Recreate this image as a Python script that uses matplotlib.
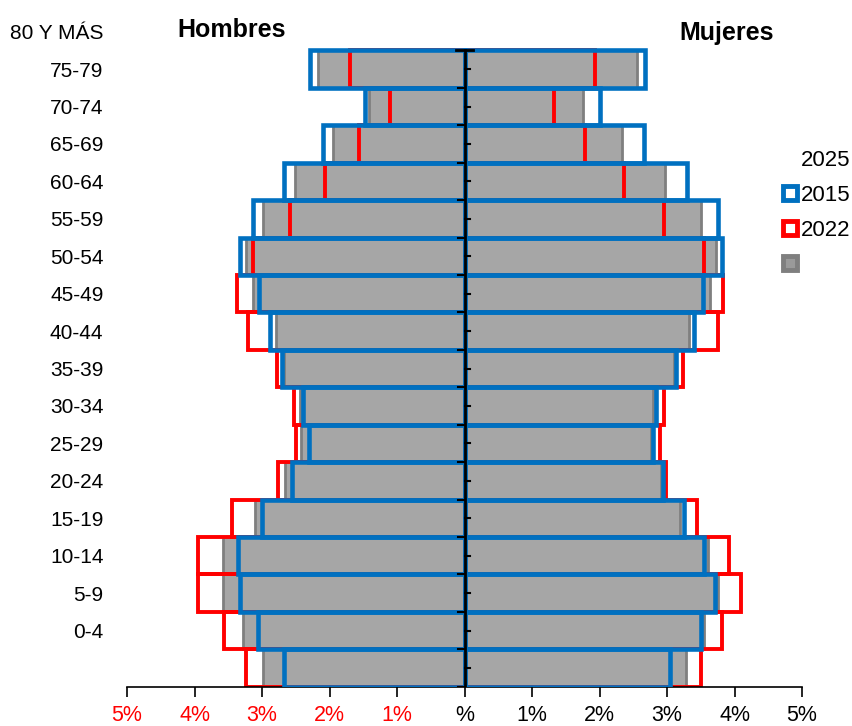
import numpy as np
import matplotlib.pyplot as plt
from matplotlib.lines import Line2D

# age labels (shifted one bar up, as in the original sheet)
age_labels = ["0-4", "5-9", "10-14", "15-19", "20-24", "25-29", "30-34", "35-39",
              "40-44", "45-49", "50-54", "55-59", "60-64", "65-69", "70-74",
              "75-79", "80 Y MÁS"]

# values per bar, top to bottom (percent of population)
men_2025 = [2.17, 1.41, 1.95, 2.51, 2.99, 3.23, 3.14, 2.80, 2.67, 2.44, 2.42, 2.66, 3.11, 3.58, 3.58, 3.28, 2.98]
men_2015 = [2.29, 1.47, 2.10, 2.68, 3.14, 3.33, 3.05, 2.88, 2.70, 2.39, 2.31, 2.56, 3.00, 3.36, 3.32, 3.06, 2.68]
men_2022 = [1.69, 1.11, 1.57, 2.07, 2.59, 3.14, 3.37, 3.21, 2.78, 2.53, 2.50, 2.76, 3.45, 3.95, 3.95, 3.57, 3.23]
women_2025 = [2.56, 1.76, 2.33, 2.97, 3.51, 3.73, 3.63, 3.32, 3.10, 2.79, 2.77, 2.91, 3.19, 3.60, 3.76, 3.55, 3.28]
women_2015 = [2.68, 2.00, 2.66, 3.29, 3.76, 3.82, 3.53, 3.40, 3.13, 2.83, 2.79, 2.94, 3.25, 3.55, 3.71, 3.50, 3.04]
women_2022 = [1.93, 1.32, 1.79, 2.37, 2.96, 3.55, 3.83, 3.75, 3.24, 2.96, 2.89, 2.99, 3.45, 3.92, 4.09, 3.82, 3.51]

xtick_vals = [-5, -4, -3, -2, -1, 0, 1, 2, 3, 4, 5]
xtick_labels = ["5%", "4%", "3%", "2%", "1%", "%", "1%", "2%", "3%", "4%", "5%"]

blue = "#0070c0"
red = "#ff0000"
gray = "#a6a6a6"
dgray = "#7f7f7f"

plt.rcParams['font.family'] = ['Liberation Sans', 'DejaVu Sans']

n = len(men_2025)
y = np.arange(n)[::-1]  # top bar -> index n-1

fig = plt.figure(figsize=(8.52, 7.26), dpi=100)
ax = fig.add_axes([127/852, 1-686.7/726, (802-127)/852, (686.7-13)/726])

# 2025 filled gray
ax.barh(y, -np.array(men_2025), height=1.0, color=gray, edgecolor=dgray, linewidth=2, zorder=1)
ax.barh(y, women_2025, height=1.0, color=gray, edgecolor=dgray, linewidth=2, zorder=1)
# 2022 red outline
ax.barh(y, -np.array(men_2022), height=1.0, fill=False, edgecolor=red, linewidth=2.8, zorder=2)
ax.barh(y, women_2022, height=1.0, fill=False, edgecolor=red, linewidth=2.8, zorder=2)
# 2015 blue outline
ax.barh(y, -np.array(men_2015), height=1.0, fill=False, edgecolor=blue, linewidth=3.3, zorder=3)
ax.barh(y, women_2015, height=1.0, fill=False, edgecolor=blue, linewidth=3.3, zorder=3)

# center axis with small ticks
ax.plot([0, 0], [-0.5, n - 0.5], color="black", lw=2, zorder=5)
ax.plot([-0.12, 0.12], [n - 0.5, n - 0.5], color="black", lw=2, zorder=5)
for b in np.arange(n) - 0.5:
    ax.plot([-0.1, 0], [b, b], color="black", lw=1.5, zorder=5)
for m in np.arange(n):
    ax.plot([0, 0.08], [m, m], color="black", lw=1.5, zorder=5)

ax.set_xlim(-5, 5)
ax.set_ylim(-0.5, 17.5)
for s in ["top", "right", "left"]:
    ax.spines[s].set_visible(False)
ax.spines["bottom"].set_linewidth(1.2)

ax.set_xticks(xtick_vals)
ax.set_xticklabels(xtick_labels, fontsize=15.5)
for lbl, v in zip(ax.get_xticklabels(), xtick_vals):
    lbl.set_color(red if v < 0 else "black")
ax.tick_params(axis="x", direction="out", length=7, width=1.2, pad=6)

ax.set_yticks(np.arange(1, n + 1))
ax.set_yticklabels(age_labels, fontsize=15)
ax.tick_params(axis="y", length=0, pad=17)

fig.text(232/852, 1-30/726, "Hombres", fontsize=18, fontweight="bold", ha="center", va="center")
fig.text(727/852, 1-33/726, "Mujeres", fontsize=18, fontweight="bold", ha="center", va="center")

handles = [
    Line2D([], [], marker="s", linestyle="none", markersize=10, markerfacecolor="white",
           markeredgecolor=blue, markeredgewidth=3.5),
    Line2D([], [], marker="s", linestyle="none", markersize=10, markerfacecolor="white",
           markeredgecolor=red, markeredgewidth=3.5),
    Line2D([], [], marker="s", linestyle="none", markersize=10, markerfacecolor="#9a9a9a",
           markeredgecolor=dgray, markeredgewidth=3.5),
]
leg = fig.legend(handles, ["2015", "2022", ""], title="2025", loc="upper right",
                 bbox_to_anchor=(850/852, 1-150/726), frameon=False, fontsize=16,
                 title_fontsize=16, handlelength=0.6, handletextpad=0.15,
                 labelspacing=0.62, borderaxespad=0, borderpad=0, alignment="right")

fig.savefig("out.png", dpi=100)
